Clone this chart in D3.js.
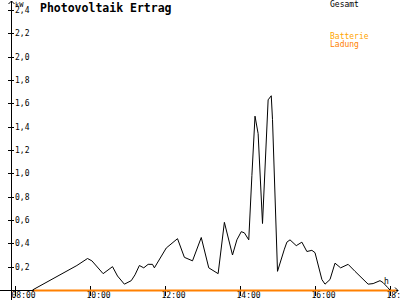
<!DOCTYPE html>
<html lang="de">
<head>
  <meta charset="utf-8">
  <script src="https://d3js.org/d3.v7.min.js"></script>
  <style>
    body { margin: 0; background: #fff; }
    text { font-family: "DejaVu Sans Mono", monospace; }
  </style>
</head>
<body>
<div id="chart"></div>
<script>

// data: time of day (hh:mm) and power in kW
var times = ["08:28","09:39","09:56","10:03","10:21","10:36","10:44","10:55","11:06","11:12",
  "11:19","11:26","11:33","11:40","11:43","12:02","12:20","12:31","12:44","12:58",
  "13:10","13:25","13:35","13:48","13:55","14:02","14:07","14:14","14:19","14:24",
  "14:29","14:36","14:45","14:50","14:52","15:00","15:11","15:15","15:20","15:30",
  "15:39","15:47","15:55","16:00","16:11","16:16","16:24","16:32","16:41","16:53",
  "17:04","17:25","17:33","17:44","17:49","17:56","18:00"];
var gesamt = [0, 0.21, 0.27, 0.25, 0.14, 0.2, 0.12, 0.05, 0.08, 0.13,
  0.21, 0.19, 0.22, 0.22, 0.19, 0.36, 0.44, 0.28, 0.25, 0.45,
  0.19, 0.14, 0.58, 0.3, 0.43, 0.5, 0.49, 0.43, 0.98, 1.49,
  1.34, 0.57, 1.63, 1.665, 1.46, 0.16, 0.35, 0.41, 0.43, 0.38,
  0.41, 0.33, 0.34, 0.32, 0.09, 0.05, 0.09, 0.23, 0.19, 0.22,
  0.16, 0.05, 0.055, 0.08, 0.063, 0.023, 0];
// battery charging stays at zero
var ladungStart = "08:30", ladungEnd = "18:10";
var yTicks = [0.2,0.4,0.6,0.8,1.0,1.2,1.4,1.6,1.8,2.0,2.2,2.4];
var xTicks = [8,10,12,14,16,18];

var W = 400, H = 300;
var svg = d3.select("#chart").append("svg")
  .attr("width", W).attr("height", H);

function toHours(s) {
  var p = s.split(":");
  return +p[0] + (+p[1]) / 60;
}

var x = d3.scaleLinear().domain([8, 18]).range([15, 390]);
var y = d3.scaleLinear().domain([0, 2.4]).range([290, 10]);

// y axis ticks (crossing the axis line)
var gy = svg.append("g")
  .attr("transform", "translate(8,0)")
  .call(d3.axisRight(y).tickValues(yTicks).tickSize(6).tickPadding(1)
    .tickFormat(function(d){ return d3.format(".1f")(d).replace(".", ","); }));
gy.select(".domain").remove();
gy.selectAll("line").attr("stroke", "#000").attr("shape-rendering", "crispEdges");
gy.selectAll("text").style("font-size", "8px").attr("fill", "#000");

// x axis ticks
var gx = svg.append("g")
  .attr("transform", "translate(0,286)")
  .call(d3.axisBottom(x).tickValues(xTicks).tickSize(10)
    .tickFormat(function(d){ return (d < 10 ? "0" : "") + d + ":00"; }));
gx.select(".domain").remove();
gx.selectAll("line").attr("stroke", "#000").attr("shape-rendering", "crispEdges");
gx.selectAll("text")
  .style("font-size", "8px").attr("fill", "#000")
  .attr("text-anchor", "start").attr("x", -4).attr("y", 6);

// axis lines with arrows
svg.append("path")
  .attr("d", "M11.5,300V1M8.5,4L11.5,1L14.5,4")
  .attr("fill", "none").attr("stroke", "#000");
svg.append("path")
  .attr("d", "M0,290.5H398M395,287.5L398,290.5L395,293.5")
  .attr("fill", "none").attr("stroke", "#000");

// battery charging line
svg.append("line")
  .attr("x1", x(toHours(ladungStart))).attr("x2", x(toHours(ladungEnd)))
  .attr("y1", y(0) + 0.5).attr("y2", y(0) + 0.5)
  .attr("stroke", "#ff8000").attr("stroke-width", 2);

// total production line
var line = d3.line()
  .x(function(d, i){ return x(toHours(times[i])); })
  .y(function(d){ return y(d); });
svg.append("path")
  .datum(gesamt)
  .attr("d", line)
  .attr("fill", "none")
  .attr("stroke", "#000")
  .attr("stroke-width", 1);

// labels
svg.append("text").text("kW")
  .attr("x", 15).attr("y", 7).style("font-size", "7px");
svg.append("text").text("h")
  .attr("x", 384).attr("y", 284).style("font-size", "8px");
svg.append("text").text("Photovoltaik Ertrag")
  .attr("x", 40).attr("y", 12)
  .style("font-size", "11.5px").style("font-weight", "bold");
svg.append("text").text("Gesamt")
  .attr("x", 330).attr("y", 7).style("font-size", "8px");
svg.append("text").text("Batterie")
  .attr("x", 330).attr("y", 39).style("font-size", "8px").attr("fill", "#ffa500");
svg.append("text").text("Ladung")
  .attr("x", 330).attr("y", 47).style("font-size", "8px").attr("fill", "#ff8000");

</script>
</body>
</html>
